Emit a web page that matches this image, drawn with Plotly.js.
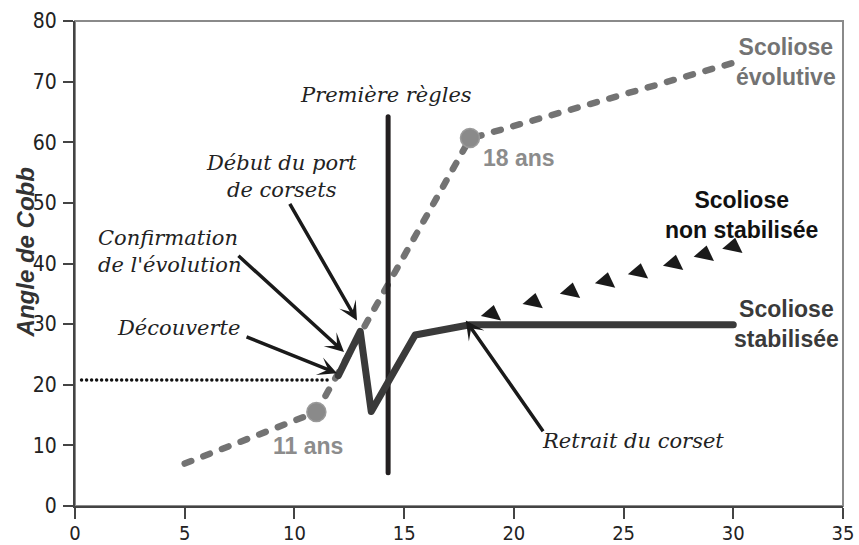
<!DOCTYPE html>
<html>
<head>
<meta charset="utf-8">
<script src="https://cdn.plot.ly/plotly-3.0.1.min.js"></script>
<style>
  html, body { margin: 0; padding: 0; background: #fff; }
  #chart { width: 859px; height: 545px; }
  .js-line { stroke-linecap: round !important; stroke-linejoin: round !important; }
</style>
</head>
<body>
<div id="chart"></div>
<script>
// ---- data ----
const evolAge = [5, 11, 18, 30];
const evolAngle = [7, 15.5, 60.6, 73.1];

const stabAge = [12, 13, 13.5, 15.5, 18, 30];
const stabAngle = [21.5, 28.8, 15.6, 28.2, 29.9, 29.9];

const nonStabAge = [19.0, 20.9, 22.6, 24.2, 25.7, 27.3, 28.7, 30.0];
const nonStabAngle = [31.7, 33.7, 35.4, 37.1, 38.6, 40.0, 41.5, 42.8];

const milestoneAge = [11, 18];
const milestoneAngle = [15.5, 60.7];

const discoveryAge = [0.3, 11.6];
const discoveryAngle = [20.8, 20.8];

const menarcheAge = [14.27, 14.27];
const menarcheAngle = [5.5, 64.2];

const xTicks = [0, 5, 10, 15, 20, 25, 30, 35];
const yTicks = [0, 10, 20, 30, 40, 50, 60, 70, 80];

// labelled arrows
const arrowLabels = ["Début du port<br>de corsets", "Confirmation<br>de l'évolution", "Découverte", "Retrait du corset"];
const arrowTailX = [9.75, 7.38, 7.75, 21.38];
const arrowTailY = [50.1, 41.5, 28.0, 12.1];
const arrowHeadX = [12.85, 12.26, 11.94, 17.81];
const arrowHeadY = [30.6, 25.4, 21.9, 30.6];

const serif = "DejaVu Serif";
const sans = "Liberation Sans";
const tickFamily = "'DejaVu Sans Condensed', 'DejaVu Sans', sans-serif";

const traces = [
  { x: evolAge, y: evolAngle, mode: 'lines', line: { color: '#737373', width: 6.5, dash: '7px,13px' }, hoverinfo: 'skip' },
  { x: discoveryAge, y: discoveryAngle, mode: 'lines', line: { color: '#111', width: 3.5, dash: '0.01px,5px' }, hoverinfo: 'skip' },
  { x: menarcheAge, y: menarcheAngle, mode: 'lines', line: { color: '#231f20', width: 5 }, hoverinfo: 'skip' },
  { x: stabAge, y: stabAngle, mode: 'lines', line: { color: '#3a3a3a', width: 7 }, hoverinfo: 'skip' },
  { x: nonStabAge, y: nonStabAngle, mode: 'markers', marker: { symbol: 'triangle-up', size: 18, color: '#1a1a1a', angle: 12 }, hoverinfo: 'skip' },
  { x: milestoneAge, y: milestoneAngle, mode: 'markers', marker: { symbol: 'circle', size: 19, color: '#8a8a8a', line: { color: '#9a9a9a', width: 1.5, dash: 'dot' } }, hoverinfo: 'skip' }
];

const annotations = [];
for (let i = 0; i < arrowLabels.length; i++) {
  annotations.push({
    x: arrowHeadX[i], y: arrowHeadY[i], xref: 'x', yref: 'y',
    ax: arrowTailX[i], ay: arrowTailY[i], axref: 'x', ayref: 'y',
    text: '', showarrow: true, arrowhead: 3, arrowsize: 0.9, arrowwidth: 3.5,
    arrowcolor: '#1a1a1a', standoff: 0, startstandoff: 0
  });
}
const serifFont = { family: serif, size: 21, color: '#222', style: 'italic' };
annotations.push({ x: 14.16, y: 67.8, text: 'Première règles', showarrow: false, xanchor: 'center', yanchor: 'middle', font: serifFont });
annotations.push({ x: 9.41, y: 54.3, text: arrowLabels[0], showarrow: false, xanchor: 'center', yanchor: 'middle', align: 'center', font: serifFont });
annotations.push({ x: 0.94, y: 42.0, text: arrowLabels[1], showarrow: false, xanchor: 'left', yanchor: 'middle', align: 'left', font: serifFont });
annotations.push({ x: 4.7, y: 29.4, text: arrowLabels[2], showarrow: false, xanchor: 'center', yanchor: 'middle', font: serifFont });
annotations.push({ x: 25.44, y: 10.8, text: arrowLabels[3], showarrow: false, xanchor: 'center', yanchor: 'middle', font: serifFont });

const boldFont = (c) => ({ family: sans, size: 23, color: c, weight: 'bold' });
annotations.push({ x: 10.62, y: 9.84, text: '11 ans', showarrow: false, xanchor: 'center', yanchor: 'middle', font: boldFont('#8c8c8c') });
annotations.push({ x: 20.23, y: 57.4, text: '18 ans', showarrow: false, xanchor: 'center', yanchor: 'middle', font: boldFont('#8c8c8c') });
annotations.push({ x: 32.4, y: 73.3, text: 'Scoliose<br>évolutive', showarrow: false, xanchor: 'center', yanchor: 'middle', align: 'center', font: boldFont('#737373') });
annotations.push({ x: 30.37, y: 48.0, text: 'Scoliose<br>non stabilisée', showarrow: false, xanchor: 'center', yanchor: 'middle', align: 'center', font: boldFont('#111') });
annotations.push({ x: 32.42, y: 30.0, text: 'Scoliose<br>stabilisée', showarrow: false, xanchor: 'center', yanchor: 'middle', align: 'center', font: boldFont('#3a3a3a') });

const axisTitleFont = { family: sans, size: 24, color: '#333', weight: 'bold', style: 'italic' };
annotations.push({ x: 17.37, y: -3.6, text: 'Âge', showarrow: false, xanchor: 'center', yanchor: 'middle', font: axisTitleFont });
annotations.push({ x: -0.064, xref: 'paper', y: 41.8, yref: 'y', text: 'Angle de Cobb', textangle: -90, showarrow: false, xanchor: 'center', yanchor: 'middle', font: axisTitleFont });

const layout = {
  width: 859, height: 545,
  margin: { l: 75, r: 16, t: 21, b: 39, pad: 0 },
  paper_bgcolor: '#fff', plot_bgcolor: '#fff',
  showlegend: false,
  xaxis: {
    range: [0, 35], tickvals: xTicks, ticktext: xTicks.map(String),
    showgrid: false, zeroline: false, showline: true, linecolor: '#444', linewidth: 2,
    ticks: 'outside', ticklen: 11, tickwidth: 2, tickcolor: '#444', ticklabelstandoff: -3,
    tickfont: { family: tickFamily, size: 20, color: '#222' }
  },
  yaxis: {
    range: [0, 80], tickvals: yTicks, ticktext: yTicks.map(String),
    showgrid: false, zeroline: false, showline: true, linecolor: '#444', linewidth: 2,
    ticks: 'outside', ticklen: 10, tickwidth: 2, tickcolor: '#444', ticklabelstandoff: 2,
    tickfont: { family: tickFamily, size: 21, color: '#222' }
  },
  shapes: [
    { type: 'rect', xref: 'paper', yref: 'paper', x0: 0, x1: 1, y0: 0, y1: 1, line: { color: '#8a8a8a', width: 2 }, layer: 'below' }
  ],
  annotations: annotations
};

Plotly.newPlot('chart', traces, layout, { displayModeBar: false, staticPlot: true });
</script>
</body>
</html>
